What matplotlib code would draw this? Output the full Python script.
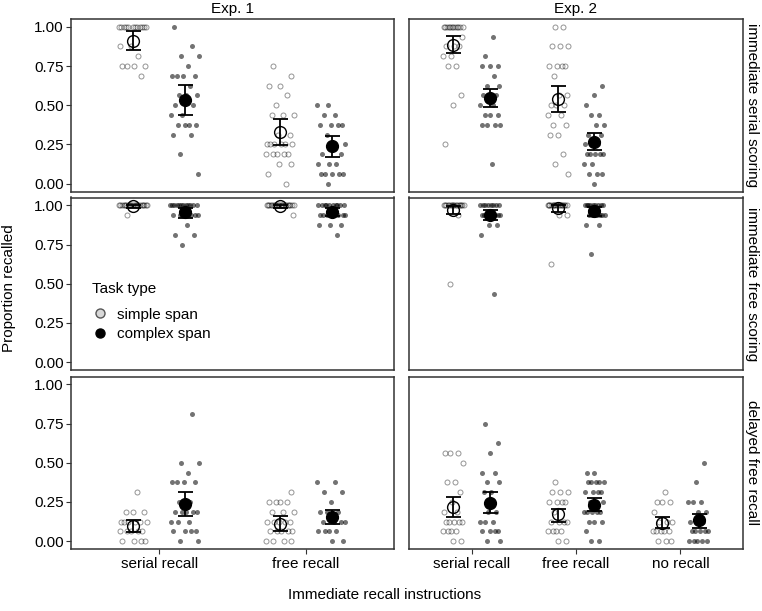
import numpy as np
import matplotlib
matplotlib.use("Agg")
import matplotlib.pyplot as plt
from matplotlib.lines import Line2D

plt.rcParams['font.family'] = ['Liberation Sans', 'DejaVu Sans']

# ---------------- labels ----------------
experiments = ["Exp. 1", "Exp. 2"]
scorings = ["immediate serial scoring", "immediate free scoring", "delayed free recall"]
categories_exp1 = ["serial recall", "free recall"]
categories_exp2 = ["serial recall", "free recall", "no recall"]
task_types = ["simple span", "complex span"]
legend_title = "Task type"
y_ticks = [0.00, 0.25, 0.50, 0.75, 1.00]

# ---------------- Exp. 1: immediate serial scoring ----------------
e1_iss_serial_simple = [1.0] * 12 + [0.875] * 2 + [0.8125] + [0.75] * 4 + [0.6875]
e1_iss_serial_complex = ([1.0, 0.875, 0.8125, 0.8125, 0.75] + [0.6875] * 4 + [0.625] + [0.5625] * 3
                         + [0.5] * 2 + [0.4375] * 2 + [0.375] * 4 + [0.3125] * 2 + [0.1875, 0.0625])
e1_iss_free_simple = ([0.75, 0.6875] + [0.625] * 2 + [0.5625, 0.5] + [0.4375] * 3 + [0.3125] * 2
                      + [0.25] * 6 + [0.1875] * 5 + [0.125] * 2 + [0.0625, 0.0])
e1_iss_free_complex = ([0.5] * 2 + [0.4375] * 2 + [0.375] * 4 + [0.3125] + [0.25] * 2 + [0.1875] * 2
                       + [0.125] * 3 + [0.0625] * 5 + [0.0])
e1_iss_mean = [0.911, 0.532, 0.327, 0.240]
e1_iss_lo = [0.852, 0.437, 0.247, 0.173]
e1_iss_hi = [0.975, 0.627, 0.411, 0.306]

# ---------------- Exp. 1: immediate free scoring ----------------
e1_ifs_serial_simple = [1.0] * 21 + [0.9375]
e1_ifs_serial_complex = [1.0] * 12 + [0.9375] * 6 + [0.875] + [0.8125] * 2 + [0.75]
e1_ifs_free_simple = [1.0] * 20 + [0.9375]
e1_ifs_free_complex = [1.0] * 10 + [0.9375] * 8 + [0.875] * 3 + [0.8125]
e1_ifs_mean = [0.997, 0.955, 0.993, 0.955]
e1_ifs_lo = [0.985, 0.920, 0.980, 0.930]
e1_ifs_hi = [1.000, 0.980, 1.000, 0.980]

# ---------------- Exp. 1: delayed free recall ----------------
e1_dfr_serial_simple = [0.3125] + [0.1875] * 3 + [0.125] * 6 + [0.0625] * 5 + [0.0] * 4
e1_dfr_serial_complex = ([0.8125] + [0.5] * 2 + [0.4375] + [0.375] * 4 + [0.25] * 2 + [0.1875] * 5
                         + [0.125] * 3 + [0.0625] * 4 + [0.0] * 2)
e1_dfr_free_simple = [0.3125] + [0.25] * 4 + [0.1875] * 3 + [0.125] * 5 + [0.0625] * 5 + [0.0] * 4
e1_dfr_free_complex = ([0.375] * 2 + [0.3125] * 2 + [0.25] + [0.1875] * 3 + [0.125] * 4
                       + [0.0625] * 4 + [0.0] * 2)
e1_dfr_mean = [0.096, 0.239, 0.111, 0.154]
e1_dfr_lo = [0.060, 0.162, 0.064, 0.111]
e1_dfr_hi = [0.135, 0.316, 0.158, 0.200]

# ---------------- Exp. 2: immediate serial scoring ----------------
e2_iss_serial_simple = ([1.0] * 12 + [0.9375] + [0.875] * 3 + [0.8125] * 2 + [0.75] * 2
                        + [0.5625, 0.5, 0.25])
e2_iss_serial_complex = ([0.9375, 0.8125] + [0.75] * 3 + [0.6875] + [0.625] * 2 + [0.5625] * 4
                         + [0.5] * 2 + [0.4375] * 3 + [0.375] * 4 + [0.125])
e2_iss_free_simple = ([1.0] * 2 + [0.875] * 3 + [0.75] * 4 + [0.6875] + [0.5625] * 2 + [0.5] * 3
                      + [0.4375] * 2 + [0.375] * 2 + [0.3125] * 2 + [0.1875, 0.125, 0.0625])
e2_iss_free_complex = ([0.625, 0.5625, 0.5] + [0.4375] * 2 + [0.375] * 2 + [0.3125] * 2 + [0.25] * 3
                       + [0.1875] * 5 + [0.125] * 2 + [0.0625] * 3 + [0.0])
e2_iss_mean = [0.886, 0.546, 0.542, 0.268]
e2_iss_lo = [0.831, 0.489, 0.454, 0.215]
e2_iss_hi = [0.943, 0.601, 0.622, 0.320]

# ---------------- Exp. 2: immediate free scoring ----------------
e2_ifs_serial_simple = [1.0] * 16 + [0.9375, 0.5]
e2_ifs_serial_complex = [1.0] * 8 + [0.9375] * 8 + [0.875] * 2 + [0.8125, 0.4375]
e2_ifs_free_simple = [1.0] * 16 + [0.9375] * 2 + [0.625]
e2_ifs_free_complex = [1.0] * 9 + [0.9375] * 7 + [0.875] * 2 + [0.6875]
e2_ifs_mean = [0.970, 0.940, 0.980, 0.962]
e2_ifs_lo = [0.945, 0.908, 0.955, 0.930]
e2_ifs_hi = [0.995, 0.968, 1.000, 0.990]

# ---------------- Exp. 2: delayed free recall ----------------
e2_dfr_serial_simple = ([0.5625] * 3 + [0.5] + [0.375] * 2 + [0.3125, 0.25] + [0.1875] * 2
                        + [0.125] * 5 + [0.0625] * 4 + [0.0] * 2)
e2_dfr_serial_complex = ([0.75, 0.625, 0.5625] + [0.4375] * 2 + [0.375] * 2 + [0.3125] * 2
                         + [0.1875] * 2 + [0.125] * 3 + [0.0625] * 4 + [0.0] * 2)
e2_dfr_free_simple = ([0.375] + [0.3125] * 3 + [0.25] * 4 + [0.1875] + [0.125] * 4 + [0.0625] * 4
                      + [0.0] * 2)
e2_dfr_free_complex = ([0.4375] * 2 + [0.375] * 5 + [0.3125] * 4 + [0.25] * 3 + [0.1875] * 5
                       + [0.125] * 3 + [0.0625] + [0.0] * 2)
e2_dfr_none_simple = [0.3125] + [0.25] * 3 + [0.1875] + [0.125] * 3 + [0.0625] * 5 + [0.0] * 3
e2_dfr_none_complex = ([0.5, 0.375] + [0.25] * 3 + [0.1875] * 2 + [0.125] * 2 + [0.0625] * 5
                       + [0.0] * 5)
e2_dfr_mean = [0.220, 0.244, 0.175, 0.231, 0.118, 0.132]
e2_dfr_lo = [0.154, 0.177, 0.124, 0.192, 0.085, 0.085]
e2_dfr_hi = [0.284, 0.314, 0.203, 0.276, 0.154, 0.175]

# panel content: (points per group in order [cat0 simple, cat0 complex, cat1 simple, ...], means, lo, hi)
panels = {
    (0, 0): ([e1_iss_serial_simple, e1_iss_serial_complex, e1_iss_free_simple, e1_iss_free_complex],
             e1_iss_mean, e1_iss_lo, e1_iss_hi),
    (1, 0): ([e1_ifs_serial_simple, e1_ifs_serial_complex, e1_ifs_free_simple, e1_ifs_free_complex],
             e1_ifs_mean, e1_ifs_lo, e1_ifs_hi),
    (2, 0): ([e1_dfr_serial_simple, e1_dfr_serial_complex, e1_dfr_free_simple, e1_dfr_free_complex],
             e1_dfr_mean, e1_dfr_lo, e1_dfr_hi),
    (0, 1): ([e2_iss_serial_simple, e2_iss_serial_complex, e2_iss_free_simple, e2_iss_free_complex],
             e2_iss_mean, e2_iss_lo, e2_iss_hi),
    (1, 1): ([e2_ifs_serial_simple, e2_ifs_serial_complex, e2_ifs_free_simple, e2_ifs_free_complex],
             e2_ifs_mean, e2_ifs_lo, e2_ifs_hi),
    (2, 1): ([e2_dfr_serial_simple, e2_dfr_serial_complex, e2_dfr_free_simple, e2_dfr_free_complex,
              e2_dfr_none_simple, e2_dfr_none_complex],
             e2_dfr_mean, e2_dfr_lo, e2_dfr_hi),
}
col_categories = [categories_exp1, categories_exp2]

# ---------------- layout ----------------
W, H = 762, 611
fig = plt.figure(figsize=(W / 100, H / 100), dpi=100)
cols_px = [(71, 394), (409, 743)]
rows_px = [(19, 191.5), (197.5, 370), (376.5, 549)]

DODGE = 0.175
JIT = 0.1
BORDER = '#333333'

def jitter_offsets(n, phase):
    # deterministic low-discrepancy spread for jitter positions
    k = np.arange(n)
    return (((k * 0.6180339887 + phase) % 1.0) * 2 - 1) * JIT

for r, (y0, y1) in enumerate(rows_px):
    for c, (x0, x1) in enumerate(cols_px):
        ax = fig.add_axes([x0 / W, 1 - y1 / H, (x1 - x0) / W, (y1 - y0) / H])
        cats = col_categories[c]
        ncat = len(cats)
        ax.set_xlim(0.4, ncat + 0.6)
        ax.set_ylim(-0.05, 1.05)
        groups, means, lo, hi = panels[(r, c)]
        for g, vals in enumerate(groups):
            cat = g // 2
            task = g % 2
            xc = cat + 1 + (-DODGE if task == 0 else DODGE)
            vals = np.asarray(vals, dtype=float)
            xs = xc + jitter_offsets(len(vals), 0.13 * g + 0.31 * r + 0.5 * c)
            if task == 0:
                ax.plot(xs, vals, 'o', ms=3.6, mfc='none', mec=(0, 0, 0, 0.42), mew=0.7,
                        linestyle='none', zorder=2)
            else:
                ax.plot(xs, vals, 'o', ms=3.6, mfc=(0, 0, 0, 0.55), mec='none',
                        linestyle='none', zorder=2)
        for g in range(len(means)):
            cat = g // 2
            task = g % 2
            xc = cat + 1 + (-DODGE if task == 0 else DODGE)
            m = means[g]
            ax.errorbar([xc], [m], yerr=[[m - lo[g]], [hi[g] - m]], fmt='none', ecolor='black',
                        elinewidth=1.3, capsize=5.4, capthick=1.3, zorder=3)
            if task == 0:
                ax.plot([xc], [m], 'o', ms=8.5, mfc='none', mec='black', mew=1.0, zorder=4)
            else:
                ax.plot([xc], [m], 'o', ms=8.5, mfc='black', mec='black', mew=1.0, zorder=4)

        for s in ax.spines.values():
            s.set_color(BORDER)
            s.set_linewidth(1.1)
        ax.set_yticks(y_ticks)
        if c == 0:
            ax.set_yticklabels([f"{t:.2f}" for t in y_ticks], fontsize=11)
            ax.tick_params(axis='y', length=3.6, width=0.8, color=BORDER, pad=1.5)
        else:
            ax.tick_params(axis='y', length=0, labelleft=False)
        ax.set_xticks(range(1, ncat + 1))
        if r == 2:
            ax.set_xticklabels(cats, fontsize=11)
            ax.tick_params(axis='x', length=3.6, width=0.8, color=BORDER, pad=2)
        else:
            ax.tick_params(axis='x', length=0, labelbottom=False)

        if r == 0:
            fig.text((x0 + x1) / 2 / W, 1 - 9 / H, experiments[c], ha='center', va='center',
                     fontsize=11)
        if c == 1:
            fig.text(752 / W, 1 - (y0 + y1) / 2 / H, scorings[r], rotation=270, ha='center',
                     va='center', fontsize=11)

        if r == 1 and c == 0:
            handles = [
                Line2D([], [], marker='o', linestyle='none', ms=6.5, mfc='#d8d8d8', mec='#555555',
                       mew=1.0),
                Line2D([], [], marker='o', linestyle='none', ms=6.5, mfc='black', mec='black'),
            ]
            leg = ax.legend(handles, task_types, loc='upper left',
                            bbox_to_anchor=(83 / W, 1 - 300 / H), bbox_transform=fig.transFigure,
                            frameon=False, fontsize=11, borderpad=0,
                            handletextpad=0.55, labelspacing=0.38, handlelength=1.2)

fig.text(92 / W, 1 - 289 / H, legend_title, ha='left', va='center', fontsize=11)
fig.text(9 / W, 1 - 288 / H, "Proportion recalled", rotation=90, ha='center', va='center',
         fontsize=11)
fig.text(385 / W, 1 - 595 / H, "Immediate recall instructions", ha='center', va='center',
         fontsize=11)

fig.savefig("out.png", dpi=100)
